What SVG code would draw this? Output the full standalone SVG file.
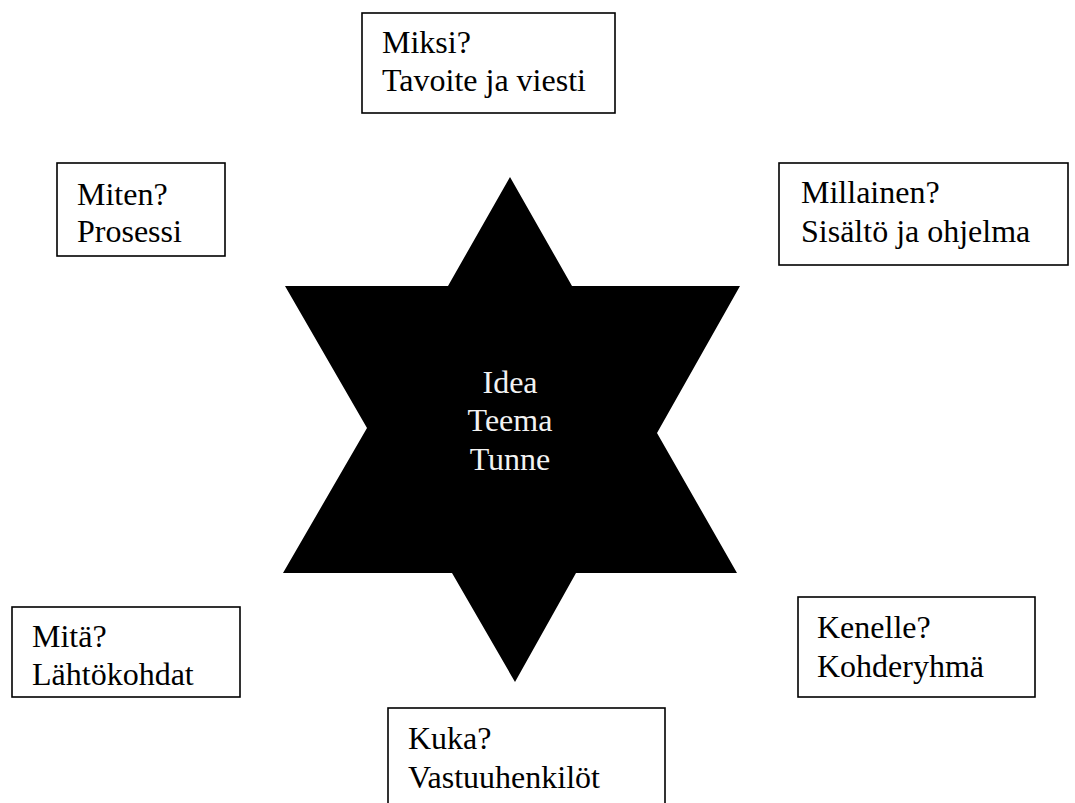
<svg xmlns="http://www.w3.org/2000/svg" width="1075" height="803" viewBox="0 0 1075 803">
  <style>
    .box { fill: #ffffff; stroke: #000000; stroke-width: 1.6; }
    .lbl { font-family: "Liberation Serif", "Times New Roman", serif; font-size: 32px; fill: #000000; }
    .core { font-family: "Liberation Serif", "Times New Roman", serif; font-size: 32px; fill: #f2f2f2; text-anchor: middle; }
  </style>
  <rect width="1075" height="803" fill="#ffffff"/>

  <!-- central six-pointed star -->
  <g id="star">
    <polygon fill="#000000" points="510,177 572,286 740,286 657,433 737,573 576,573 515,682 452,573 283,573 367,428 285,286 448,286"/>
    <text class="core" x="510" y="393">Idea</text>
    <text class="core" x="510" y="431">Teema</text>
    <text class="core" x="510" y="470">Tunne</text>
  </g>

  <g id="miksi">
    <rect class="box" x="362" y="13" width="253" height="100"/>
    <text class="lbl" x="382" y="53">Miksi?</text>
    <text class="lbl" x="382" y="91">Tavoite ja viesti</text>
  </g>

  <g id="miten">
    <rect class="box" x="57" y="163" width="168" height="93"/>
    <text class="lbl" x="77" y="205">Miten?</text>
    <text class="lbl" x="77" y="242">Prosessi</text>
  </g>

  <g id="millainen">
    <rect class="box" x="779" y="163" width="289" height="102"/>
    <text class="lbl" x="801" y="203">Millainen?</text>
    <text class="lbl" x="801" y="242">Sisältö ja ohjelma</text>
  </g>

  <g id="mita">
    <rect class="box" x="12" y="607" width="228" height="90"/>
    <text class="lbl" x="32" y="647">Mitä?</text>
    <text class="lbl" x="32" y="685">Lähtökohdat</text>
  </g>

  <g id="kenelle">
    <rect class="box" x="798" y="597" width="237" height="100"/>
    <text class="lbl" x="817" y="638">Kenelle?</text>
    <text class="lbl" x="817" y="677">Kohderyhmä</text>
  </g>

  <g id="kuka">
    <rect class="box" x="388" y="708" width="277" height="110"/>
    <text class="lbl" x="408" y="749">Kuka?</text>
    <text class="lbl" x="408" y="788">Vastuuhenkilöt</text>
  </g>

  <g id="connectors"/>
</svg>
